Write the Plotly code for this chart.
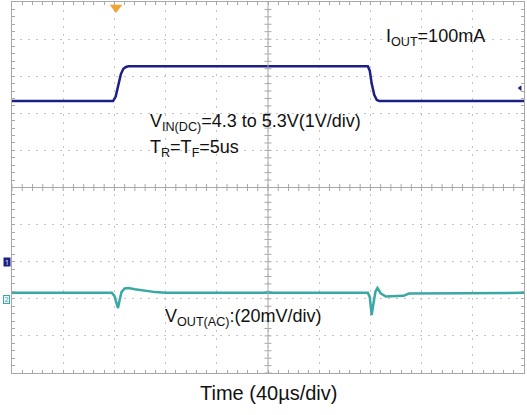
import numpy as np
import plotly.graph_objects as go

# ── DATA (time in µs, level in screen divisions) ───────────────
t_vin = [0, 79, 81, 83, 85, 87, 89, 91, 278, 279.5, 281, 283, 285, 287, 400]
vin_div = [2.33, 2.33, 2.45, 2.75, 3.05, 3.2, 3.25, 3.27, 3.27, 3.15, 2.8, 2.5, 2.36, 2.33, 2.33]

t_vout = [0, 78, 80, 81.5, 82.8, 84, 85.5, 88, 91, 96, 104, 112, 120,
          278, 279.5, 281, 282.5, 284, 285.5, 288, 292, 300, 306, 310, 400]
vout_div = [-2.84, -2.84, -2.92, -3.1, -3.25, -3.05, -2.82, -2.72, -2.71, -2.74, -2.79, -2.82, -2.84,
            -2.84, -2.95, -3.44, -3.1, -2.8, -2.71, -2.85, -2.94, -2.94, -2.92, -2.86, -2.84]

trig_time = 81.25
trig_level = 2.68
ch1_ref = -2.0
ch2_ref = -3.03

BLUE = '#1c1f86'
TEAL = '#3aa8a4'
GRID = '#c4c4c4'
AXIS = '#a8a8a8'

fig = go.Figure()

# center cross ticks of the graticule
xt = np.arange(0, 401, 8)
yt = np.arange(-5, 5.01, 0.2)
fig.add_trace(go.Scatter(x=xt, y=[0] * len(xt), mode='markers',
                         marker=dict(symbol='line-ns-open', size=5, color=AXIS,
                                     line=dict(color=AXIS, width=1)),
                         hoverinfo='skip', showlegend=False))
fig.add_trace(go.Scatter(x=[200] * len(yt), y=yt, mode='markers',
                         marker=dict(symbol='line-ew-open', size=5, color=AXIS,
                                     line=dict(color=AXIS, width=1)),
                         hoverinfo='skip', showlegend=False))

# traces
fig.add_trace(go.Scatter(x=t_vin, y=vin_div, mode='lines',
                         line=dict(color=BLUE, width=2.5), showlegend=False))
fig.add_trace(go.Scatter(x=t_vout, y=vout_div, mode='lines',
                         line=dict(color=TEAL, width=2.5), showlegend=False))

# trigger markers
fig.add_trace(go.Scatter(x=[trig_time], y=[4.85], mode='markers', cliponaxis=False,
                         marker=dict(symbol='triangle-down', size=11, color='#efa434'),
                         hoverinfo='skip', showlegend=False))
fig.add_trace(go.Scatter(x=[397], y=[trig_level], mode='markers', cliponaxis=False,
                         marker=dict(symbol='triangle-left', size=5, color=BLUE),
                         hoverinfo='skip', showlegend=False))

fig.add_shape(type='line', x0=0, x1=400, y0=0, y1=0, line=dict(color=AXIS, width=1))
fig.add_shape(type='line', x0=200, x1=200, y0=-5, y1=5, line=dict(color=AXIS, width=1))

txt = dict(family='Arial, Liberation Sans, sans-serif', size=18, color='#111')
fig.add_annotation(x=291, y=4.03, xref='x', yref='y', text='I<sub>OUT</sub>=100mA',
                   showarrow=False, xanchor='left', yanchor='middle', font=txt)
fig.add_annotation(x=106, y=1.75, xref='x', yref='y', text='V<sub>IN(DC)</sub>=4.3 to 5.3V(1V/div)',
                   showarrow=False, xanchor='left', yanchor='middle', font=txt)
fig.add_annotation(x=106, y=1.05, xref='x', yref='y', text='T<sub>R</sub>=T<sub>F</sub>=5us',
                   showarrow=False, xanchor='left', yanchor='middle', font=txt)
fig.add_annotation(x=118, y=-3.5, xref='x', yref='y', text='V<sub>OUT(AC)</sub>:(20mV/div)',
                   showarrow=False, xanchor='left', yanchor='middle', font=txt)
fig.add_annotation(x=0.5, y=-0.054, xref='paper', yref='paper', text='Time (40µs/div)',
                   showarrow=False, xanchor='center', yanchor='middle',
                   font=dict(family='Arial, Liberation Sans, sans-serif', size=20, color='#111'))

# channel reference tags
fig.add_annotation(x=-0.018, y=ch1_ref, xref='paper', yref='y', text='1', showarrow=False,
                   font=dict(size=7, color='white'), bgcolor=BLUE, borderpad=0, width=6, height=8)
fig.add_annotation(x=-0.018, y=ch2_ref, xref='paper', yref='y', text='2', showarrow=False,
                   font=dict(size=7, color=TEAL), bgcolor='#e6f6f5', bordercolor=TEAL,
                   borderwidth=1, borderpad=0, width=5, height=7)

fig.update_xaxes(range=[0, 400], dtick=40, showticklabels=False, showgrid=True,
                 gridcolor=GRID, griddash='2px,6px', zeroline=False,
                 showline=True, linecolor=AXIS, mirror='ticks', ticks='inside',
                 ticklen=3, tickcolor=AXIS,
                 minor=dict(dtick=8, ticks='inside', ticklen=3, tickcolor=AXIS, showgrid=False))
fig.update_yaxes(range=[-5, 5], dtick=1, showticklabels=False, showgrid=True,
                 gridcolor=GRID, griddash='2px,6px', zeroline=False,
                 showline=True, linecolor=AXIS, mirror='ticks', ticks='inside',
                 ticklen=3, tickcolor=AXIS,
                 minor=dict(dtick=0.2, ticks='inside', ticklen=3, tickcolor=AXIS, showgrid=False))

fig.update_layout(width=527, height=415, margin=dict(l=12, r=3, t=2, b=42, autoexpand=False),
                  plot_bgcolor='white', paper_bgcolor='white')

# page body has a default 8px margin; drop it so the figure sits at the window corner
fig.write_html('out.html', config={'displayModeBar': False},
               post_script="document.body.style.margin='0';document.body.style.overflow='hidden';")
